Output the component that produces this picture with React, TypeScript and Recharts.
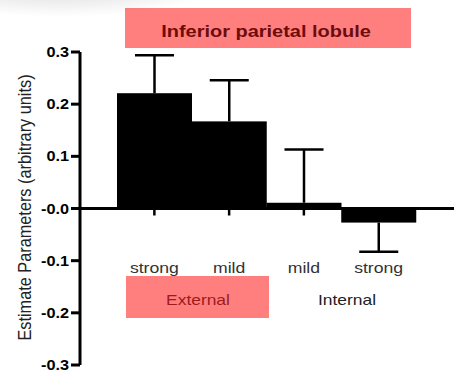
import React from "react";
import { ComposedChart, Bar, XAxis, YAxis, ReferenceLine } from "recharts";

// Conditions, in plotting order
const CATEGORIES = ["strong", "mild", "mild", "strong"];
const GROUPS = ["External", "Internal"];
// Estimated parameter per condition
const VALUES = [0.221, 0.167, 0.011, -0.027];
// One-sided error bars: amount below and above the value
const ERR_LOW = [0, 0, 0, 0.056];
const ERR_HIGH = [0.073, 0.079, 0.102, 0];
const Y_TICKS = [0.3, 0.2, 0.1, 0, -0.1, -0.2, -0.3];
const TITLE = "Inferior parietal lobule";
const Y_LABEL = "Estimate Parameters (arbitrary units)";

const data = CATEGORIES.map((c, i) => ({
  key: String(i),
  name: c,
  value: VALUES[i],
  errLow: ERR_LOW[i],
  errHigh: ERR_HIGH[i],
}));

const W = 459;
const H = 376;
const MARGIN = { top: 52, right: 5, bottom: 10, left: 8 };
const Y_AXIS_W = 72;
const X_AXIS_H = 1;
const Y_MIN = -0.3;
const Y_MAX = 0.3;
const PLOT_H = H - MARGIN.top - MARGIN.bottom - X_AXIS_H;
const ZERO_Y = MARGIN.top + (PLOT_H * (Y_MAX - 0)) / (Y_MAX - Y_MIN);

const FONT = "Arial, 'Liberation Sans', Helvetica, sans-serif";
// text in this figure is drawn slightly wide
const SX = 1.16;

const CategoryTick = (props: any) => {
  const { x, payload } = props;
  const label = CATEGORIES[Number(payload.value)];
  return (
    <g>
      <line x1={x} x2={x} y1={ZERO_Y} y2={ZERO_Y + 7} stroke="#000" strokeWidth={2.5} />
      <text
        transform={`translate(${x} ${ZERO_Y + 64}) scale(${SX} 1)`}
        textAnchor="middle"
        fontSize={15.2}
        fill="#333"
        fontFamily={FONT}
      >
        {label}
      </text>
    </g>
  );
};

const fmt = (v: number) => (v === 0 ? "-0.0" : v.toFixed(1));

const ValueTick = (props: any) => {
  const { x, y, payload } = props;
  return (
    <text
      transform={`translate(${x} ${y}) scale(${SX} 1)`}
      textAnchor="end"
      dy="0.36em"
      fontSize={14}
      fontWeight="bold"
      fill="#000"
      fontFamily={FONT}
    >
      {fmt(payload.value)}
    </text>
  );
};

// Bar body plus its one-sided error whisker, sized from the bar's own pixel scale
const BarWithError = (props: any) => {
  const { x, y, width, height, payload } = props;
  const top = Math.min(y, y + height);
  const h = Math.abs(height);
  const v = payload.value;
  const ppu = v !== 0 ? h / Math.abs(v) : 0;
  const endY = v >= 0 ? top : top + h;
  const cx = x + width / 2;
  const hi = endY - payload.errHigh * ppu;
  const lo = endY + payload.errLow * ppu;
  const half = 19.5;
  return (
    <g>
      <rect x={x} y={top} width={width} height={h} fill="#000" />
      <line x1={cx} x2={cx} y1={hi} y2={lo} stroke="#000" strokeWidth={2.5} />
      {payload.errHigh > 0 && (
        <line x1={cx - half} x2={cx + half} y1={hi} y2={hi} stroke="#000" strokeWidth={2.5} />
      )}
      {payload.errLow > 0 && (
        <line x1={cx - half} x2={cx + half} y1={lo} y2={lo} stroke="#000" strokeWidth={2.5} />
      )}
    </g>
  );
};

export default function App() {
  return (
    <div style={{ position: "absolute", left: 0, top: 0, width: W, height: H, background: "#fff" }}>
      <ComposedChart
        width={W}
        height={H}
        data={data}
        margin={MARGIN}
        barCategoryGap={0}
        barGap={0}
      >
        <XAxis
          dataKey="key"
          type="category"
          height={X_AXIS_H}
          axisLine={false}
          tickLine={false}
          padding={{ left: 37, right: 38 }}
          tick={<CategoryTick />}
          interval={0}
        />
        <YAxis
          width={Y_AXIS_W}
          domain={[Y_MIN, Y_MAX]}
          ticks={Y_TICKS}
          interval={0}
          axisLine={{ stroke: "#000", strokeWidth: 3 }}
          tickLine={{ stroke: "#000", strokeWidth: 3 }}
          tickSize={9}
          tickMargin={2}
          tick={<ValueTick />}
        />
        <Bar dataKey="value" fill="#000" isAnimationActive={false} shape={<BarWithError />} />
        <ReferenceLine y={0} stroke="#000" strokeWidth={3} />
      </ComposedChart>

      <svg
        width={W}
        height={H}
        style={{ position: "absolute", left: 0, top: 0, pointerEvents: "none" }}
      >
        <defs>
          <radialGradient id="shade" cx="0.4" cy="0.1" r="0.6">
            <stop offset="0" stopColor="#000" stopOpacity={0.45} />
            <stop offset="0.5" stopColor="#000" stopOpacity={0.15} />
            <stop offset="1" stopColor="#000" stopOpacity={0} />
          </radialGradient>
        </defs>

        {/* title banner */}
        <rect x={125} y={8} width={286} height={40} fill="#ff7f7f" />
        <text
          transform={`translate(266 37.3) scale(${SX + 0.015} 1)`}
          textAnchor="middle"
          fontSize={17}
          fontWeight="bold"
          fill="#6e0c0c"
          fontFamily={FONT}
        >
          {TITLE}
        </text>

        {/* soft shading at the top-left corner */}
        <ellipse cx={95} cy={-5} rx={175} ry={55} fill="url(#shade)" />

        {/* group labels */}
        <rect x={126} y={276} width={143} height={42} fill="#ff7f7f" />
        <text
          transform={`translate(198 305) scale(${SX} 1)`}
          textAnchor="middle"
          fontSize={15}
          fill="#9e1b1b"
          fontFamily={FONT}
        >
          {GROUPS[0]}
        </text>
        <text
          transform={`translate(347 305) scale(${SX} 1)`}
          textAnchor="middle"
          fontSize={15}
          fill="#222"
          fontFamily={FONT}
        >
          {GROUPS[1]}
        </text>

        {/* y-axis title */}
        <text
          transform={`translate(31 207.5) rotate(-90) scale(1 ${SX})`}
          textAnchor="middle"
          fontSize={16.3}
          fill="#222"
          fontFamily={FONT}
        >
          {Y_LABEL}
        </text>
      </svg>
    </div>
  );
}
